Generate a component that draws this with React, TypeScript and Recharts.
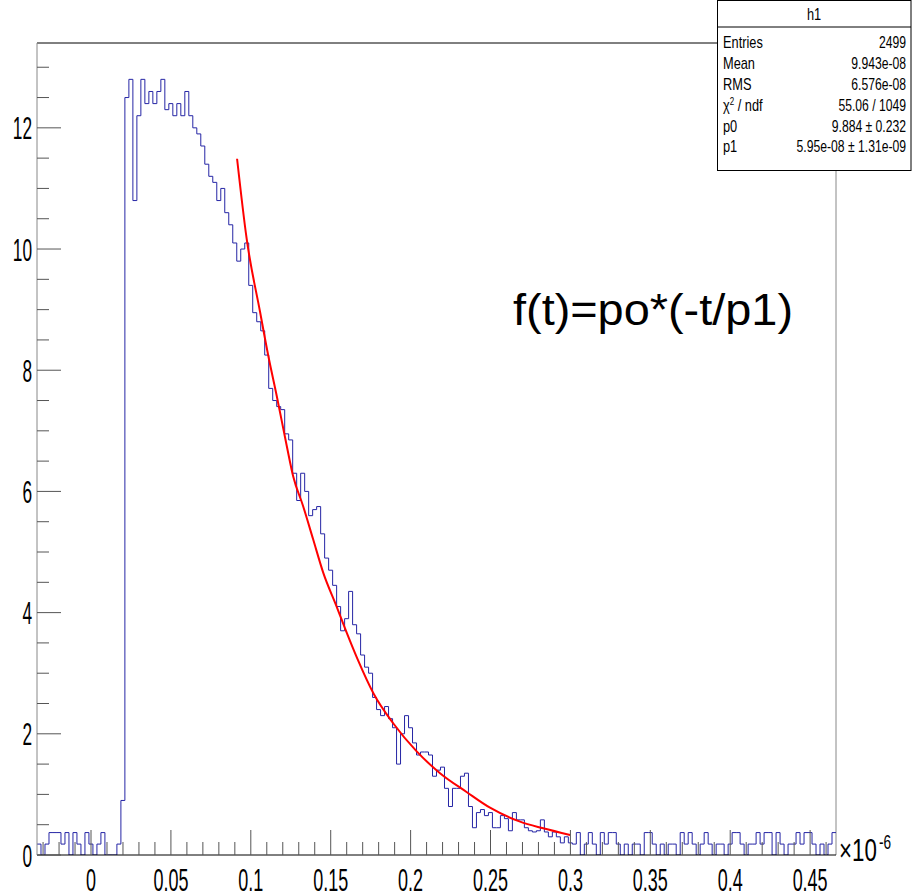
import { ComposedChart, Line, XAxis, YAxis, ReferenceLine } from 'recharts'

const X_MIN = -0.0338
const X_MAX = 0.4662
const Y_MAX = 13.4
const BIN_W = 0.0025

// bin contents, left to right (one bin = 4 px)
const preNoise = [0.18, 0, 0.18, 0.37, 0.37, 0.37, 0.18, 0.37, 0, 0.37, 0.18, 0, 0.37, 0.18, 0, 0.18, 0.37, 0, 0, 0, 0.18]
const peakCounts = [
  0.9, 12.5, 12.8, 10.8, 12.2, 12.8, 12.4, 12.6, 12.4, 12.6, 12.8, 12.3, 12.4, 12.2, 12.4, 12.2,
  12.6, 12.2, 12.0, 11.9, 11.7, 11.4, 11.2, 11.1, 10.8, 11.0, 10.6, 10.4, 10.1, 9.8, 10.0, 10.1,
]
const tailCounts = [
  9.4, 8.95, 8.8, 8.65, 8.25, 7.7, 7.5, 7.4, 7.35, 6.95, 6.85, 6.3, 5.85, 6.3, 6.0, 5.6,
  5.7, 5.75, 5.3, 4.9, 4.7, 4.45, 4.1, 3.7, 3.9, 4.35, 3.8, 3.65, 3.3, 3.1, 3.0, 2.6,
  2.4, 2.3, 2.45, 2.25, 2.1, 1.5, 2.0, 2.3, 2.1, 1.85, 1.65, 1.7, 1.7, 1.65, 1.3, 1.4,
  1.45, 1.1, 0.8, 1.1, 1.1, 1.3, 1.35, 0.8, 0.45, 0.7, 0.75, 0.65, 0.7, 0.45, 0.45, 0.65,
  0.6, 0.4, 0.7, 0.58, 0.58, 0.45, 0.4, 0.38, 0.4, 0.58, 0.38, 0.3, 0.38, 0.3, 0.2, 0.3, 0.2,
]
const postNoise = [
  0.18, 0.37, 0, 0.18, 0.37, 0.18, 0, 0.37, 0.18, 0.37, 0.37, 0.18, 0, 0.18, 0, 0.18,
  0.18, 0, 0.37, 0.37, 0.18, 0, 0.18, 0, 0.18, 0.18, 0, 0.37, 0.18, 0.37, 0.18, 0,
  0.18, 0.37, 0.18, 0, 0.18, 0.18, 0, 0.18, 0.37, 0.37, 0.18, 0, 0.18, 0.18, 0.37, 0.18,
  0.37, 0.37, 0, 0.37, 0.18, 0, 0.18, 0.18, 0.37, 0.18, 0.37, 0.37, 0.18, 0, 0.18, 0, 0.18, 0.37,
]

// red fit curve
const fitT = [0.0914, 0.0974, 0.1058, 0.111, 0.1162, 0.1225, 0.1265, 0.1327, 0.139, 0.1453, 0.1537, 0.16, 0.167, 0.1767, 0.1892, 0.2038, 0.2184, 0.235, 0.2497, 0.2685, 0.283, 0.2998]
const fitF = [11.49, 10.17, 8.96, 8.23, 7.58, 6.75, 6.25, 5.76, 5.21, 4.66, 4.1, 3.67, 3.22, 2.67, 2.17, 1.71, 1.35, 1.04, 0.78, 0.55, 0.44, 0.33]

const statLabels = ['Entries', 'Mean', 'RMS', 'chi', 'p0', 'p1']
const statValues = ['2499', '9.943e-08', '6.576e-08', '55.06 / 1049', '9.884 \u00b1 0.232', '5.95e-08 \u00b1 1.31e-09']

const counts = [...preNoise, ...peakCounts, ...tailCounts, ...postNoise]
const histData = counts.map((v, i) => ({ t: X_MIN + i * BIN_W, v }))
histData.push({ t: X_MAX, v: counts[counts.length - 1] })
const fitData = fitT.map((t, i) => ({ t, f: fitF[i] }))

const xTicks: number[] = []
for (let k = -3; k <= 46; k++) xTicks.push(k / 100)
const yTicks: number[] = []
for (let k = 0; k <= 26; k++) yTicks.push(k / 2)

const FONT = 'Liberation Sans, Arial, sans-serif'

function XTick({ x, y, payload }: any) {
  const v = payload.value
  const major = Math.round(v * 100) % 5 === 0
  const len = major ? 25 : 13
  return (
    <g>
      <line x1={x} x2={x} y1={y} y2={y - len} stroke="#555" />
      {major && (
        <text transform={`translate(${x},${y + 36}) scale(0.58,1)`} textAnchor="middle" fontSize={31} fontFamily={FONT} fill="#000">
          {String(parseFloat(v.toFixed(2)))}
        </text>
      )}
    </g>
  )
}

function YTick({ x, y, payload }: any) {
  const v = payload.value
  const major = v % 2 === 0
  const len = major ? 24 : 12
  return (
    <g>
      <line x1={x} x2={x + len} y1={y} y2={y} stroke="#555" />
      {major && (
        <text transform={`translate(${x - 5},${y + 11.5}) scale(0.54,1)`} textAnchor="end" fontSize={32} fontFamily={FONT} fill="#000">
          {v}
        </text>
      )}
    </g>
  )
}

function StatsBox() {
  const rowY = [48, 69, 90, 111, 132, 152]
  return (
    <g fontFamily={FONT} fontSize={16} fill="#000">
      <rect x={717.5} y={0.5} width={193.5} height={170} fill="#fff" stroke="#000" />
      <line x1={717.5} x2={911} y1={27} y2={27} stroke="#000" />
      <text transform="translate(814,20) scale(0.8,1)" textAnchor="middle">h1</text>
      {statLabels.map((l, i) => (
        <text key={l} transform={`translate(723,${rowY[i]}) scale(0.8,1)`}>
          {l === 'chi' ? (
            <>
              {'\u03c7'}
              <tspan fontSize={10} dy={-6}>2</tspan>
              <tspan dy={6}>{' / ndf'}</tspan>
            </>
          ) : l}
        </text>
      ))}
      {statValues.map((s, i) => (
        <text key={i} transform={`translate(906,${rowY[i]}) scale(0.76,1)`} textAnchor="end">{s}</text>
      ))}
    </g>
  )
}

export default function App() {
  return (
    <div style={{ position: 'absolute', left: 0, top: 0, width: 912, height: 896, background: '#fff' }}>
      <ComposedChart width={912} height={896} margin={{ top: 43, right: 76, left: 0, bottom: 0 }} data={histData}>
        <XAxis
          dataKey="t"
          type="number"
          domain={[X_MIN, X_MAX]}
          allowDataOverflow
          ticks={xTicks}
          interval={0}
          tick={<XTick />}
          tickLine={false}
          tickSize={0}
          tickMargin={0}
          height={41}
          axisLine={{ stroke: '#000' }}
        />
        <YAxis
          type="number"
          domain={[0, Y_MAX]}
          allowDataOverflow
          ticks={yTicks}
          interval={0}
          tick={<YTick />}
          tickLine={false}
          tickSize={0}
          tickMargin={0}
          width={37}
          axisLine={{ stroke: '#888' }}
        />
        <ReferenceLine y={Y_MAX} stroke="#000" />
        <ReferenceLine x={X_MAX} stroke="#888" />
        <Line dataKey="v" type="stepAfter" stroke="#2525a5" strokeWidth={1} dot={false} isAnimationActive={false} />
        <Line data={fitData} dataKey="f" type="monotone" stroke="#ff0000" strokeWidth={2} dot={false} isAnimationActive={false} />
      </ComposedChart>
      <svg width={912} height={896} style={{ position: 'absolute', left: 0, top: 0, pointerEvents: 'none' }}>
        <StatsBox />
        <text x={513} y={325} fontSize={44} textLength={280} lengthAdjust="spacingAndGlyphs" fontFamily={FONT} fill="#000">
          f(t)=po*(-t/p1)
        </text>
        <text transform="translate(839,861) scale(0.72,1)" fontSize={31} fontFamily={FONT} fill="#000">
          {'\u00d710'}
        </text>
        <text transform="translate(879,849) scale(0.65,1)" fontSize={21} fontFamily={FONT} fill="#000">
          -6
        </text>
      </svg>
    </div>
  )
}
